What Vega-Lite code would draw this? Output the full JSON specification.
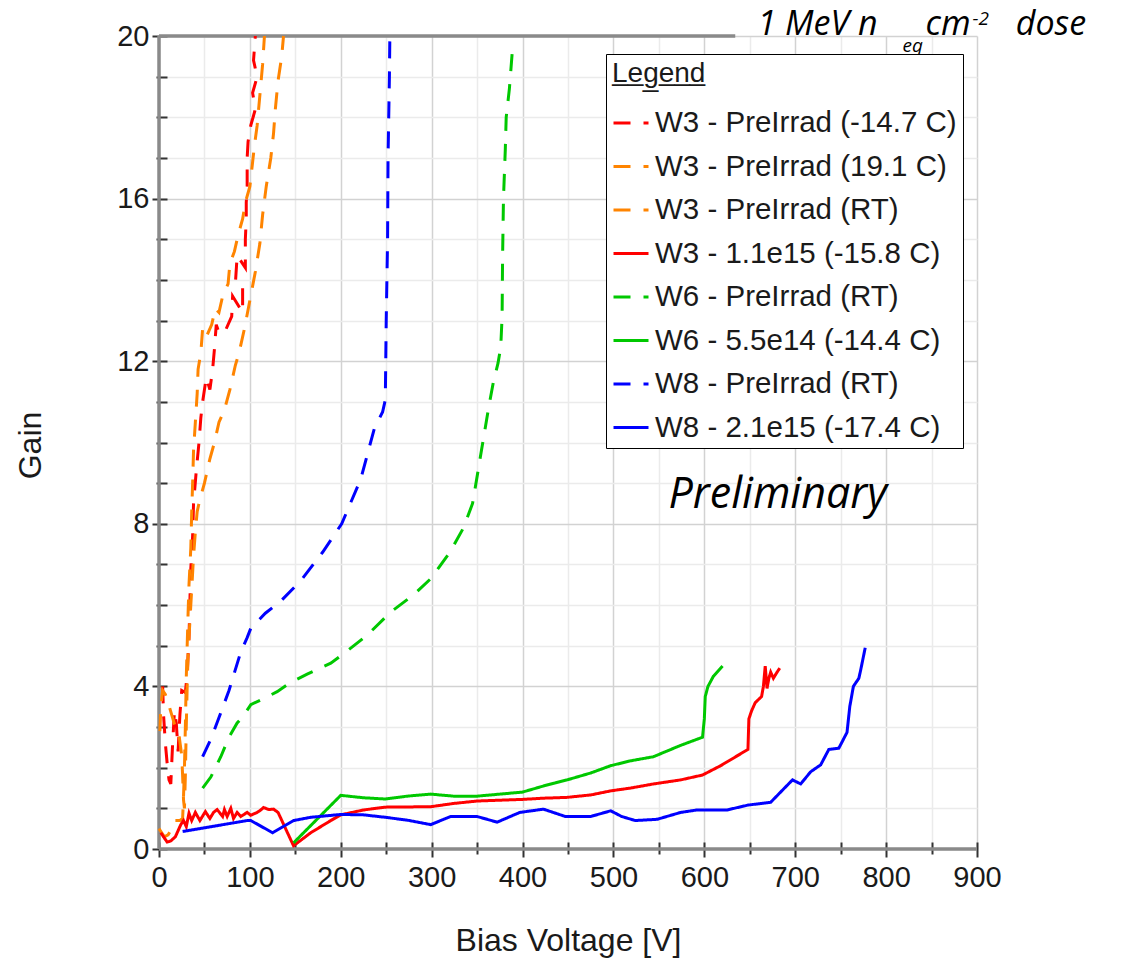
{
  "$schema": "https://vega.github.io/schema/vega-lite/v6.json",
  "width": 818,
  "height": 813,
  "autosize": {"type": "none"},
  "padding": {"left": 159, "top": 36, "right": 150, "bottom": 109},
  "background": "white",
  "config": {"view": {"stroke": null}, "font": "Liberation Sans"},
  "datasets": {
    "frame": [
      {"v": 0, "v2": 0, "g": 0, "g2": 20},
      {"v": 0, "v2": 900, "g": 0, "g2": 0},
      {"v": 0, "v2": 634, "g": 20, "g2": 20}
    ],
    "annot": [
      {"t": "1 MeV n", "v": 724.5, "g": 20.02, "k": "big"},
      {"t": "eq", "v": 818, "g": 19.6, "k": "small"},
      {"t": "cm", "v": 868.1, "g": 20.02, "k": "big"},
      {"t": "-2", "v": 895, "g": 20.27, "k": "small"},
      {"t": "dose", "v": 981.4, "g": 20.02, "k": "big"},
      {"t": "Preliminary", "v": 560.5, "g": 8.39, "k": "prelim"}
    ],
    "curves": [
      {"s": "W3 - PreIrrad (-14.7 C)", "i": 0, "v": 4, "g": 4.0},
      {"s": "W3 - PreIrrad (-14.7 C)", "i": 1, "v": 5, "g": 3.3},
      {"s": "W3 - PreIrrad (-14.7 C)", "i": 2, "v": 7, "g": 2.6},
      {"s": "W3 - PreIrrad (-14.7 C)", "i": 3, "v": 9, "g": 2.1},
      {"s": "W3 - PreIrrad (-14.7 C)", "i": 4, "v": 11, "g": 1.7},
      {"s": "W3 - PreIrrad (-14.7 C)", "i": 5, "v": 13, "g": 1.6},
      {"s": "W3 - PreIrrad (-14.7 C)", "i": 6, "v": 15, "g": 2.6},
      {"s": "W3 - PreIrrad (-14.7 C)", "i": 7, "v": 17, "g": 3.4},
      {"s": "W3 - PreIrrad (-14.7 C)", "i": 8, "v": 19, "g": 3.1},
      {"s": "W3 - PreIrrad (-14.7 C)", "i": 9, "v": 21, "g": 2.4},
      {"s": "W3 - PreIrrad (-14.7 C)", "i": 10, "v": 23, "g": 3.3},
      {"s": "W3 - PreIrrad (-14.7 C)", "i": 11, "v": 25, "g": 3.9},
      {"s": "W3 - PreIrrad (-14.7 C)", "i": 12, "v": 29, "g": 3.85},
      {"s": "W3 - PreIrrad (-14.7 C)", "i": 13, "v": 31, "g": 4.3},
      {"s": "W3 - PreIrrad (-14.7 C)", "i": 14, "v": 33, "g": 5.2},
      {"s": "W3 - PreIrrad (-14.7 C)", "i": 15, "v": 34, "g": 6.1},
      {"s": "W3 - PreIrrad (-14.7 C)", "i": 16, "v": 35, "g": 6.9},
      {"s": "W3 - PreIrrad (-14.7 C)", "i": 17, "v": 37, "g": 7.7},
      {"s": "W3 - PreIrrad (-14.7 C)", "i": 18, "v": 38, "g": 8.5},
      {"s": "W3 - PreIrrad (-14.7 C)", "i": 19, "v": 41, "g": 9.3},
      {"s": "W3 - PreIrrad (-14.7 C)", "i": 20, "v": 44, "g": 10.0},
      {"s": "W3 - PreIrrad (-14.7 C)", "i": 21, "v": 46, "g": 10.6},
      {"s": "W3 - PreIrrad (-14.7 C)", "i": 22, "v": 48, "g": 11.0},
      {"s": "W3 - PreIrrad (-14.7 C)", "i": 23, "v": 52, "g": 11.6},
      {"s": "W3 - PreIrrad (-14.7 C)", "i": 24, "v": 56, "g": 11.3},
      {"s": "W3 - PreIrrad (-14.7 C)", "i": 25, "v": 59, "g": 11.8},
      {"s": "W3 - PreIrrad (-14.7 C)", "i": 26, "v": 61, "g": 12.3},
      {"s": "W3 - PreIrrad (-14.7 C)", "i": 27, "v": 63, "g": 12.9},
      {"s": "W3 - PreIrrad (-14.7 C)", "i": 28, "v": 66, "g": 12.7},
      {"s": "W3 - PreIrrad (-14.7 C)", "i": 29, "v": 72, "g": 12.7},
      {"s": "W3 - PreIrrad (-14.7 C)", "i": 30, "v": 80, "g": 13.1},
      {"s": "W3 - PreIrrad (-14.7 C)", "i": 31, "v": 81, "g": 13.6},
      {"s": "W3 - PreIrrad (-14.7 C)", "i": 32, "v": 92, "g": 13.2},
      {"s": "W3 - PreIrrad (-14.7 C)", "i": 33, "v": 92, "g": 13.8},
      {"s": "W3 - PreIrrad (-14.7 C)", "i": 34, "v": 84, "g": 13.9},
      {"s": "W3 - PreIrrad (-14.7 C)", "i": 35, "v": 86, "g": 14.6},
      {"s": "W3 - PreIrrad (-14.7 C)", "i": 36, "v": 95, "g": 14.3},
      {"s": "W3 - PreIrrad (-14.7 C)", "i": 37, "v": 95, "g": 15.0},
      {"s": "W3 - PreIrrad (-14.7 C)", "i": 38, "v": 96, "g": 15.5},
      {"s": "W3 - PreIrrad (-14.7 C)", "i": 39, "v": 96, "g": 15.9},
      {"s": "W3 - PreIrrad (-14.7 C)", "i": 40, "v": 97, "g": 16.3},
      {"s": "W3 - PreIrrad (-14.7 C)", "i": 41, "v": 97, "g": 17.0},
      {"s": "W3 - PreIrrad (-14.7 C)", "i": 42, "v": 98, "g": 17.4},
      {"s": "W3 - PreIrrad (-14.7 C)", "i": 43, "v": 101, "g": 17.8},
      {"s": "W3 - PreIrrad (-14.7 C)", "i": 44, "v": 106, "g": 18.2},
      {"s": "W3 - PreIrrad (-14.7 C)", "i": 45, "v": 103, "g": 18.6},
      {"s": "W3 - PreIrrad (-14.7 C)", "i": 46, "v": 108, "g": 19.0},
      {"s": "W3 - PreIrrad (-14.7 C)", "i": 47, "v": 104, "g": 19.4},
      {"s": "W3 - PreIrrad (-14.7 C)", "i": 48, "v": 106, "g": 20.0},

      {"s": "W3 - PreIrrad (19.1 C)", "i": 0, "v": 0, "g": 0.5},
      {"s": "W3 - PreIrrad (19.1 C)", "i": 1, "v": 3, "g": 0.4},
      {"s": "W3 - PreIrrad (19.1 C)", "i": 2, "v": 6, "g": 0.3},
      {"s": "W3 - PreIrrad (19.1 C)", "i": 3, "v": 10, "g": 0.35},
      {"s": "W3 - PreIrrad (19.1 C)", "i": 4, "v": 14, "g": 0.5},
      {"s": "W3 - PreIrrad (19.1 C)", "i": 5, "v": 18, "g": 0.7},
      {"s": "W3 - PreIrrad (19.1 C)", "i": 6, "v": 23, "g": 0.7},
      {"s": "W3 - PreIrrad (19.1 C)", "i": 7, "v": 26, "g": 0.75},
      {"s": "W3 - PreIrrad (19.1 C)", "i": 8, "v": 27, "g": 1.3},
      {"s": "W3 - PreIrrad (19.1 C)", "i": 9, "v": 28, "g": 2.0},
      {"s": "W3 - PreIrrad (19.1 C)", "i": 10, "v": 29, "g": 3.0},
      {"s": "W3 - PreIrrad (19.1 C)", "i": 11, "v": 30, "g": 4.2},
      {"s": "W3 - PreIrrad (19.1 C)", "i": 12, "v": 31, "g": 5.0},
      {"s": "W3 - PreIrrad (19.1 C)", "i": 13, "v": 32, "g": 5.8},
      {"s": "W3 - PreIrrad (19.1 C)", "i": 14, "v": 33, "g": 6.5},
      {"s": "W3 - PreIrrad (19.1 C)", "i": 15, "v": 35, "g": 7.4},
      {"s": "W3 - PreIrrad (19.1 C)", "i": 16, "v": 36, "g": 8.3},
      {"s": "W3 - PreIrrad (19.1 C)", "i": 17, "v": 37, "g": 9.0},
      {"s": "W3 - PreIrrad (19.1 C)", "i": 18, "v": 38, "g": 9.8},
      {"s": "W3 - PreIrrad (19.1 C)", "i": 19, "v": 40, "g": 10.5},
      {"s": "W3 - PreIrrad (19.1 C)", "i": 20, "v": 42, "g": 11.2},
      {"s": "W3 - PreIrrad (19.1 C)", "i": 21, "v": 43, "g": 11.8},
      {"s": "W3 - PreIrrad (19.1 C)", "i": 22, "v": 46, "g": 12.2},
      {"s": "W3 - PreIrrad (19.1 C)", "i": 23, "v": 48, "g": 12.8},
      {"s": "W3 - PreIrrad (19.1 C)", "i": 24, "v": 52, "g": 12.6},
      {"s": "W3 - PreIrrad (19.1 C)", "i": 25, "v": 58, "g": 12.9},
      {"s": "W3 - PreIrrad (19.1 C)", "i": 26, "v": 62, "g": 13.3},
      {"s": "W3 - PreIrrad (19.1 C)", "i": 27, "v": 66, "g": 13.2},
      {"s": "W3 - PreIrrad (19.1 C)", "i": 28, "v": 70, "g": 13.6},
      {"s": "W3 - PreIrrad (19.1 C)", "i": 29, "v": 76, "g": 13.9},
      {"s": "W3 - PreIrrad (19.1 C)", "i": 30, "v": 78, "g": 14.4},
      {"s": "W3 - PreIrrad (19.1 C)", "i": 31, "v": 83, "g": 14.7},
      {"s": "W3 - PreIrrad (19.1 C)", "i": 32, "v": 87, "g": 15.1},
      {"s": "W3 - PreIrrad (19.1 C)", "i": 33, "v": 92, "g": 15.5},
      {"s": "W3 - PreIrrad (19.1 C)", "i": 34, "v": 95, "g": 15.9},
      {"s": "W3 - PreIrrad (19.1 C)", "i": 35, "v": 100, "g": 16.3},
      {"s": "W3 - PreIrrad (19.1 C)", "i": 36, "v": 103, "g": 16.9},
      {"s": "W3 - PreIrrad (19.1 C)", "i": 37, "v": 105, "g": 17.3},
      {"s": "W3 - PreIrrad (19.1 C)", "i": 38, "v": 108, "g": 17.8},
      {"s": "W3 - PreIrrad (19.1 C)", "i": 39, "v": 110, "g": 18.3},
      {"s": "W3 - PreIrrad (19.1 C)", "i": 40, "v": 112, "g": 18.8},
      {"s": "W3 - PreIrrad (19.1 C)", "i": 41, "v": 114, "g": 19.3},
      {"s": "W3 - PreIrrad (19.1 C)", "i": 42, "v": 116, "g": 20.0},

      {"s": "W3 - PreIrrad (RT)", "i": 0, "v": 1, "g": 2.9},
      {"s": "W3 - PreIrrad (RT)", "i": 1, "v": 2, "g": 3.5},
      {"s": "W3 - PreIrrad (RT)", "i": 2, "v": 4, "g": 3.9},
      {"s": "W3 - PreIrrad (RT)", "i": 3, "v": 7, "g": 3.8},
      {"s": "W3 - PreIrrad (RT)", "i": 4, "v": 10, "g": 3.6},
      {"s": "W3 - PreIrrad (RT)", "i": 5, "v": 14, "g": 3.3},
      {"s": "W3 - PreIrrad (RT)", "i": 6, "v": 18, "g": 3.0},
      {"s": "W3 - PreIrrad (RT)", "i": 7, "v": 22, "g": 2.8},
      {"s": "W3 - PreIrrad (RT)", "i": 8, "v": 25, "g": 2.3},
      {"s": "W3 - PreIrrad (RT)", "i": 9, "v": 26, "g": 1.8},
      {"s": "W3 - PreIrrad (RT)", "i": 10, "v": 27, "g": 1.2},
      {"s": "W3 - PreIrrad (RT)", "i": 11, "v": 28, "g": 1.0},
      {"s": "W3 - PreIrrad (RT)", "i": 12, "v": 29, "g": 1.8},
      {"s": "W3 - PreIrrad (RT)", "i": 13, "v": 30, "g": 3.0},
      {"s": "W3 - PreIrrad (RT)", "i": 14, "v": 31, "g": 4.0},
      {"s": "W3 - PreIrrad (RT)", "i": 15, "v": 32, "g": 4.8},
      {"s": "W3 - PreIrrad (RT)", "i": 16, "v": 34, "g": 5.6},
      {"s": "W3 - PreIrrad (RT)", "i": 17, "v": 36, "g": 6.4},
      {"s": "W3 - PreIrrad (RT)", "i": 18, "v": 38, "g": 7.2},
      {"s": "W3 - PreIrrad (RT)", "i": 19, "v": 40, "g": 7.8},
      {"s": "W3 - PreIrrad (RT)", "i": 20, "v": 42, "g": 8.3},
      {"s": "W3 - PreIrrad (RT)", "i": 21, "v": 45, "g": 8.6},
      {"s": "W3 - PreIrrad (RT)", "i": 22, "v": 50, "g": 9.0},
      {"s": "W3 - PreIrrad (RT)", "i": 23, "v": 56, "g": 9.6},
      {"s": "W3 - PreIrrad (RT)", "i": 24, "v": 61, "g": 10.0},
      {"s": "W3 - PreIrrad (RT)", "i": 25, "v": 66, "g": 10.5},
      {"s": "W3 - PreIrrad (RT)", "i": 26, "v": 72, "g": 10.8},
      {"s": "W3 - PreIrrad (RT)", "i": 27, "v": 78, "g": 11.3},
      {"s": "W3 - PreIrrad (RT)", "i": 28, "v": 84, "g": 11.9},
      {"s": "W3 - PreIrrad (RT)", "i": 29, "v": 88, "g": 12.2},
      {"s": "W3 - PreIrrad (RT)", "i": 30, "v": 94, "g": 12.8},
      {"s": "W3 - PreIrrad (RT)", "i": 31, "v": 100, "g": 13.5},
      {"s": "W3 - PreIrrad (RT)", "i": 32, "v": 106, "g": 14.2},
      {"s": "W3 - PreIrrad (RT)", "i": 33, "v": 111, "g": 14.9},
      {"s": "W3 - PreIrrad (RT)", "i": 34, "v": 114, "g": 15.6},
      {"s": "W3 - PreIrrad (RT)", "i": 35, "v": 118, "g": 16.3},
      {"s": "W3 - PreIrrad (RT)", "i": 36, "v": 123, "g": 17.0},
      {"s": "W3 - PreIrrad (RT)", "i": 37, "v": 126, "g": 17.6},
      {"s": "W3 - PreIrrad (RT)", "i": 38, "v": 128, "g": 18.2},
      {"s": "W3 - PreIrrad (RT)", "i": 39, "v": 131, "g": 18.9},
      {"s": "W3 - PreIrrad (RT)", "i": 40, "v": 135, "g": 19.5},
      {"s": "W3 - PreIrrad (RT)", "i": 41, "v": 137, "g": 20.0},

      {"s": "W3 - 1.1e15 (-15.8 C)", "i": 0, "v": 2, "g": 0.4},
      {"s": "W3 - 1.1e15 (-15.8 C)", "i": 1, "v": 5, "g": 0.3},
      {"s": "W3 - 1.1e15 (-15.8 C)", "i": 2, "v": 9, "g": 0.17},
      {"s": "W3 - 1.1e15 (-15.8 C)", "i": 3, "v": 13, "g": 0.2},
      {"s": "W3 - 1.1e15 (-15.8 C)", "i": 4, "v": 18, "g": 0.3},
      {"s": "W3 - 1.1e15 (-15.8 C)", "i": 5, "v": 22, "g": 0.5},
      {"s": "W3 - 1.1e15 (-15.8 C)", "i": 6, "v": 24, "g": 0.6},
      {"s": "W3 - 1.1e15 (-15.8 C)", "i": 7, "v": 27, "g": 0.7},
      {"s": "W3 - 1.1e15 (-15.8 C)", "i": 8, "v": 30, "g": 0.55},
      {"s": "W3 - 1.1e15 (-15.8 C)", "i": 9, "v": 33, "g": 0.88},
      {"s": "W3 - 1.1e15 (-15.8 C)", "i": 10, "v": 36, "g": 0.7},
      {"s": "W3 - 1.1e15 (-15.8 C)", "i": 11, "v": 40, "g": 0.9},
      {"s": "W3 - 1.1e15 (-15.8 C)", "i": 12, "v": 45, "g": 0.7},
      {"s": "W3 - 1.1e15 (-15.8 C)", "i": 13, "v": 51, "g": 0.92},
      {"s": "W3 - 1.1e15 (-15.8 C)", "i": 14, "v": 56, "g": 0.75},
      {"s": "W3 - 1.1e15 (-15.8 C)", "i": 15, "v": 60, "g": 0.9},
      {"s": "W3 - 1.1e15 (-15.8 C)", "i": 16, "v": 64, "g": 0.97},
      {"s": "W3 - 1.1e15 (-15.8 C)", "i": 17, "v": 70, "g": 0.8},
      {"s": "W3 - 1.1e15 (-15.8 C)", "i": 18, "v": 72, "g": 0.97},
      {"s": "W3 - 1.1e15 (-15.8 C)", "i": 19, "v": 75, "g": 0.8},
      {"s": "W3 - 1.1e15 (-15.8 C)", "i": 20, "v": 79, "g": 1.0},
      {"s": "W3 - 1.1e15 (-15.8 C)", "i": 21, "v": 82, "g": 0.75},
      {"s": "W3 - 1.1e15 (-15.8 C)", "i": 22, "v": 86, "g": 0.9},
      {"s": "W3 - 1.1e15 (-15.8 C)", "i": 23, "v": 90, "g": 0.8},
      {"s": "W3 - 1.1e15 (-15.8 C)", "i": 24, "v": 97, "g": 0.9},
      {"s": "W3 - 1.1e15 (-15.8 C)", "i": 25, "v": 101, "g": 0.83},
      {"s": "W3 - 1.1e15 (-15.8 C)", "i": 26, "v": 108, "g": 0.9},
      {"s": "W3 - 1.1e15 (-15.8 C)", "i": 27, "v": 112, "g": 0.96},
      {"s": "W3 - 1.1e15 (-15.8 C)", "i": 28, "v": 115, "g": 1.02},
      {"s": "W3 - 1.1e15 (-15.8 C)", "i": 29, "v": 121, "g": 0.97},
      {"s": "W3 - 1.1e15 (-15.8 C)", "i": 30, "v": 126, "g": 0.98},
      {"s": "W3 - 1.1e15 (-15.8 C)", "i": 31, "v": 131, "g": 0.9},
      {"s": "W3 - 1.1e15 (-15.8 C)", "i": 32, "v": 148, "g": 0.08},
      {"s": "W3 - 1.1e15 (-15.8 C)", "i": 33, "v": 167, "g": 0.4},
      {"s": "W3 - 1.1e15 (-15.8 C)", "i": 34, "v": 189, "g": 0.7},
      {"s": "W3 - 1.1e15 (-15.8 C)", "i": 35, "v": 200, "g": 0.84},
      {"s": "W3 - 1.1e15 (-15.8 C)", "i": 36, "v": 225, "g": 0.96},
      {"s": "W3 - 1.1e15 (-15.8 C)", "i": 37, "v": 249, "g": 1.03},
      {"s": "W3 - 1.1e15 (-15.8 C)", "i": 38, "v": 299, "g": 1.04},
      {"s": "W3 - 1.1e15 (-15.8 C)", "i": 39, "v": 324, "g": 1.12},
      {"s": "W3 - 1.1e15 (-15.8 C)", "i": 40, "v": 350, "g": 1.18},
      {"s": "W3 - 1.1e15 (-15.8 C)", "i": 41, "v": 400, "g": 1.22},
      {"s": "W3 - 1.1e15 (-15.8 C)", "i": 42, "v": 423, "g": 1.25},
      {"s": "W3 - 1.1e15 (-15.8 C)", "i": 43, "v": 449, "g": 1.27},
      {"s": "W3 - 1.1e15 (-15.8 C)", "i": 44, "v": 475, "g": 1.33},
      {"s": "W3 - 1.1e15 (-15.8 C)", "i": 45, "v": 497, "g": 1.43},
      {"s": "W3 - 1.1e15 (-15.8 C)", "i": 46, "v": 519, "g": 1.5},
      {"s": "W3 - 1.1e15 (-15.8 C)", "i": 47, "v": 544, "g": 1.6},
      {"s": "W3 - 1.1e15 (-15.8 C)", "i": 48, "v": 574, "g": 1.7},
      {"s": "W3 - 1.1e15 (-15.8 C)", "i": 49, "v": 598, "g": 1.82},
      {"s": "W3 - 1.1e15 (-15.8 C)", "i": 50, "v": 618, "g": 2.05},
      {"s": "W3 - 1.1e15 (-15.8 C)", "i": 51, "v": 648, "g": 2.45},
      {"s": "W3 - 1.1e15 (-15.8 C)", "i": 52, "v": 649, "g": 3.2},
      {"s": "W3 - 1.1e15 (-15.8 C)", "i": 53, "v": 652, "g": 3.4},
      {"s": "W3 - 1.1e15 (-15.8 C)", "i": 54, "v": 656, "g": 3.6},
      {"s": "W3 - 1.1e15 (-15.8 C)", "i": 55, "v": 663, "g": 3.75},
      {"s": "W3 - 1.1e15 (-15.8 C)", "i": 56, "v": 665, "g": 4.0},
      {"s": "W3 - 1.1e15 (-15.8 C)", "i": 57, "v": 667, "g": 4.5},
      {"s": "W3 - 1.1e15 (-15.8 C)", "i": 58, "v": 669, "g": 3.95},
      {"s": "W3 - 1.1e15 (-15.8 C)", "i": 59, "v": 671, "g": 4.2},
      {"s": "W3 - 1.1e15 (-15.8 C)", "i": 60, "v": 673, "g": 4.35},
      {"s": "W3 - 1.1e15 (-15.8 C)", "i": 61, "v": 676, "g": 4.2},
      {"s": "W3 - 1.1e15 (-15.8 C)", "i": 62, "v": 680, "g": 4.35},
      {"s": "W3 - 1.1e15 (-15.8 C)", "i": 63, "v": 683, "g": 4.45},

      {"s": "W6 - PreIrrad (RT)", "i": 0, "v": 48, "g": 1.5},
      {"s": "W6 - PreIrrad (RT)", "i": 1, "v": 57, "g": 1.77},
      {"s": "W6 - PreIrrad (RT)", "i": 2, "v": 68, "g": 2.27},
      {"s": "W6 - PreIrrad (RT)", "i": 3, "v": 77, "g": 2.75},
      {"s": "W6 - PreIrrad (RT)", "i": 4, "v": 86, "g": 3.1},
      {"s": "W6 - PreIrrad (RT)", "i": 5, "v": 92, "g": 3.25},
      {"s": "W6 - PreIrrad (RT)", "i": 6, "v": 101, "g": 3.55},
      {"s": "W6 - PreIrrad (RT)", "i": 7, "v": 115, "g": 3.7},
      {"s": "W6 - PreIrrad (RT)", "i": 8, "v": 130, "g": 3.87},
      {"s": "W6 - PreIrrad (RT)", "i": 9, "v": 145, "g": 4.1},
      {"s": "W6 - PreIrrad (RT)", "i": 10, "v": 163, "g": 4.3},
      {"s": "W6 - PreIrrad (RT)", "i": 11, "v": 189, "g": 4.57},
      {"s": "W6 - PreIrrad (RT)", "i": 12, "v": 203, "g": 4.8},
      {"s": "W6 - PreIrrad (RT)", "i": 13, "v": 229, "g": 5.26},
      {"s": "W6 - PreIrrad (RT)", "i": 14, "v": 255, "g": 5.83},
      {"s": "W6 - PreIrrad (RT)", "i": 15, "v": 280, "g": 6.25},
      {"s": "W6 - PreIrrad (RT)", "i": 16, "v": 299, "g": 6.65},
      {"s": "W6 - PreIrrad (RT)", "i": 17, "v": 320, "g": 7.3},
      {"s": "W6 - PreIrrad (RT)", "i": 18, "v": 335, "g": 7.9},
      {"s": "W6 - PreIrrad (RT)", "i": 19, "v": 345, "g": 8.5},
      {"s": "W6 - PreIrrad (RT)", "i": 20, "v": 351, "g": 9.3},
      {"s": "W6 - PreIrrad (RT)", "i": 21, "v": 357, "g": 10.1},
      {"s": "W6 - PreIrrad (RT)", "i": 22, "v": 363, "g": 10.9},
      {"s": "W6 - PreIrrad (RT)", "i": 23, "v": 368, "g": 11.5},
      {"s": "W6 - PreIrrad (RT)", "i": 24, "v": 373, "g": 11.95},
      {"s": "W6 - PreIrrad (RT)", "i": 25, "v": 376, "g": 12.35},
      {"s": "W6 - PreIrrad (RT)", "i": 26, "v": 377.5, "g": 13.1},
      {"s": "W6 - PreIrrad (RT)", "i": 27, "v": 378, "g": 14.5},
      {"s": "W6 - PreIrrad (RT)", "i": 28, "v": 379, "g": 16.0},
      {"s": "W6 - PreIrrad (RT)", "i": 29, "v": 381, "g": 17.2},
      {"s": "W6 - PreIrrad (RT)", "i": 30, "v": 382, "g": 18.0},
      {"s": "W6 - PreIrrad (RT)", "i": 31, "v": 385.5, "g": 18.7},
      {"s": "W6 - PreIrrad (RT)", "i": 32, "v": 389, "g": 19.7},

      {"s": "W6 - 5.5e14 (-14.4 C)", "i": 0, "v": 148, "g": 0.15},
      {"s": "W6 - 5.5e14 (-14.4 C)", "i": 1, "v": 200, "g": 1.32},
      {"s": "W6 - 5.5e14 (-14.4 C)", "i": 2, "v": 225, "g": 1.26},
      {"s": "W6 - 5.5e14 (-14.4 C)", "i": 3, "v": 249, "g": 1.23},
      {"s": "W6 - 5.5e14 (-14.4 C)", "i": 4, "v": 273, "g": 1.3},
      {"s": "W6 - 5.5e14 (-14.4 C)", "i": 5, "v": 299, "g": 1.35},
      {"s": "W6 - 5.5e14 (-14.4 C)", "i": 6, "v": 324, "g": 1.3},
      {"s": "W6 - 5.5e14 (-14.4 C)", "i": 7, "v": 350, "g": 1.3},
      {"s": "W6 - 5.5e14 (-14.4 C)", "i": 8, "v": 375, "g": 1.35},
      {"s": "W6 - 5.5e14 (-14.4 C)", "i": 9, "v": 400, "g": 1.4},
      {"s": "W6 - 5.5e14 (-14.4 C)", "i": 10, "v": 423, "g": 1.55},
      {"s": "W6 - 5.5e14 (-14.4 C)", "i": 11, "v": 449, "g": 1.7},
      {"s": "W6 - 5.5e14 (-14.4 C)", "i": 12, "v": 475, "g": 1.87},
      {"s": "W6 - 5.5e14 (-14.4 C)", "i": 13, "v": 497, "g": 2.05},
      {"s": "W6 - 5.5e14 (-14.4 C)", "i": 14, "v": 519, "g": 2.17},
      {"s": "W6 - 5.5e14 (-14.4 C)", "i": 15, "v": 544, "g": 2.27},
      {"s": "W6 - 5.5e14 (-14.4 C)", "i": 16, "v": 574, "g": 2.55},
      {"s": "W6 - 5.5e14 (-14.4 C)", "i": 17, "v": 598, "g": 2.75},
      {"s": "W6 - 5.5e14 (-14.4 C)", "i": 18, "v": 600, "g": 3.2},
      {"s": "W6 - 5.5e14 (-14.4 C)", "i": 19, "v": 601, "g": 3.75},
      {"s": "W6 - 5.5e14 (-14.4 C)", "i": 20, "v": 604, "g": 4.0},
      {"s": "W6 - 5.5e14 (-14.4 C)", "i": 21, "v": 610, "g": 4.25},
      {"s": "W6 - 5.5e14 (-14.4 C)", "i": 22, "v": 620, "g": 4.5},

      {"s": "W8 - PreIrrad (RT)", "i": 0, "v": 48, "g": 2.27},
      {"s": "W8 - PreIrrad (RT)", "i": 1, "v": 57, "g": 2.7},
      {"s": "W8 - PreIrrad (RT)", "i": 2, "v": 68, "g": 3.35},
      {"s": "W8 - PreIrrad (RT)", "i": 3, "v": 77, "g": 3.9},
      {"s": "W8 - PreIrrad (RT)", "i": 4, "v": 90, "g": 4.85},
      {"s": "W8 - PreIrrad (RT)", "i": 5, "v": 97, "g": 5.2},
      {"s": "W8 - PreIrrad (RT)", "i": 6, "v": 101, "g": 5.43},
      {"s": "W8 - PreIrrad (RT)", "i": 7, "v": 117, "g": 5.8},
      {"s": "W8 - PreIrrad (RT)", "i": 8, "v": 134, "g": 6.1},
      {"s": "W8 - PreIrrad (RT)", "i": 9, "v": 156, "g": 6.6},
      {"s": "W8 - PreIrrad (RT)", "i": 10, "v": 180, "g": 7.3},
      {"s": "W8 - PreIrrad (RT)", "i": 11, "v": 201, "g": 8.0},
      {"s": "W8 - PreIrrad (RT)", "i": 12, "v": 222, "g": 9.1},
      {"s": "W8 - PreIrrad (RT)", "i": 13, "v": 237, "g": 10.35},
      {"s": "W8 - PreIrrad (RT)", "i": 14, "v": 246, "g": 10.75},
      {"s": "W8 - PreIrrad (RT)", "i": 15, "v": 249, "g": 11.05},
      {"s": "W8 - PreIrrad (RT)", "i": 16, "v": 250, "g": 13.0},
      {"s": "W8 - PreIrrad (RT)", "i": 17, "v": 251.5, "g": 15.0},
      {"s": "W8 - PreIrrad (RT)", "i": 18, "v": 252, "g": 17.0},
      {"s": "W8 - PreIrrad (RT)", "i": 19, "v": 253.5, "g": 19.0},
      {"s": "W8 - PreIrrad (RT)", "i": 20, "v": 254, "g": 20.0},

      {"s": "W8 - 2.1e15 (-17.4 C)", "i": 0, "v": 26, "g": 0.43},
      {"s": "W8 - 2.1e15 (-17.4 C)", "i": 1, "v": 97, "g": 0.7},
      {"s": "W8 - 2.1e15 (-17.4 C)", "i": 2, "v": 101, "g": 0.7},
      {"s": "W8 - 2.1e15 (-17.4 C)", "i": 3, "v": 125, "g": 0.4},
      {"s": "W8 - 2.1e15 (-17.4 C)", "i": 4, "v": 148, "g": 0.7},
      {"s": "W8 - 2.1e15 (-17.4 C)", "i": 5, "v": 167, "g": 0.78},
      {"s": "W8 - 2.1e15 (-17.4 C)", "i": 6, "v": 200, "g": 0.85},
      {"s": "W8 - 2.1e15 (-17.4 C)", "i": 7, "v": 225, "g": 0.84},
      {"s": "W8 - 2.1e15 (-17.4 C)", "i": 8, "v": 249, "g": 0.78},
      {"s": "W8 - 2.1e15 (-17.4 C)", "i": 9, "v": 273, "g": 0.71},
      {"s": "W8 - 2.1e15 (-17.4 C)", "i": 10, "v": 299, "g": 0.6},
      {"s": "W8 - 2.1e15 (-17.4 C)", "i": 11, "v": 321, "g": 0.8},
      {"s": "W8 - 2.1e15 (-17.4 C)", "i": 12, "v": 350, "g": 0.8},
      {"s": "W8 - 2.1e15 (-17.4 C)", "i": 13, "v": 372, "g": 0.66},
      {"s": "W8 - 2.1e15 (-17.4 C)", "i": 14, "v": 397, "g": 0.9},
      {"s": "W8 - 2.1e15 (-17.4 C)", "i": 15, "v": 423, "g": 0.98},
      {"s": "W8 - 2.1e15 (-17.4 C)", "i": 16, "v": 447, "g": 0.8},
      {"s": "W8 - 2.1e15 (-17.4 C)", "i": 17, "v": 475, "g": 0.8},
      {"s": "W8 - 2.1e15 (-17.4 C)", "i": 18, "v": 497, "g": 0.94},
      {"s": "W8 - 2.1e15 (-17.4 C)", "i": 19, "v": 509, "g": 0.8},
      {"s": "W8 - 2.1e15 (-17.4 C)", "i": 20, "v": 524, "g": 0.7},
      {"s": "W8 - 2.1e15 (-17.4 C)", "i": 21, "v": 548, "g": 0.73},
      {"s": "W8 - 2.1e15 (-17.4 C)", "i": 22, "v": 574, "g": 0.9},
      {"s": "W8 - 2.1e15 (-17.4 C)", "i": 23, "v": 592, "g": 0.96},
      {"s": "W8 - 2.1e15 (-17.4 C)", "i": 24, "v": 625, "g": 0.96},
      {"s": "W8 - 2.1e15 (-17.4 C)", "i": 25, "v": 648, "g": 1.08},
      {"s": "W8 - 2.1e15 (-17.4 C)", "i": 26, "v": 673, "g": 1.15},
      {"s": "W8 - 2.1e15 (-17.4 C)", "i": 27, "v": 697, "g": 1.7},
      {"s": "W8 - 2.1e15 (-17.4 C)", "i": 28, "v": 706, "g": 1.6},
      {"s": "W8 - 2.1e15 (-17.4 C)", "i": 29, "v": 717, "g": 1.9},
      {"s": "W8 - 2.1e15 (-17.4 C)", "i": 30, "v": 728, "g": 2.07},
      {"s": "W8 - 2.1e15 (-17.4 C)", "i": 31, "v": 737, "g": 2.45},
      {"s": "W8 - 2.1e15 (-17.4 C)", "i": 32, "v": 748, "g": 2.48},
      {"s": "W8 - 2.1e15 (-17.4 C)", "i": 33, "v": 757, "g": 2.87},
      {"s": "W8 - 2.1e15 (-17.4 C)", "i": 34, "v": 760, "g": 3.5},
      {"s": "W8 - 2.1e15 (-17.4 C)", "i": 35, "v": 764, "g": 4.0},
      {"s": "W8 - 2.1e15 (-17.4 C)", "i": 36, "v": 770, "g": 4.2},
      {"s": "W8 - 2.1e15 (-17.4 C)", "i": 37, "v": 772, "g": 4.4},
      {"s": "W8 - 2.1e15 (-17.4 C)", "i": 38, "v": 777, "g": 4.95}
    ]
  },
  "layer": [
    {
      "data": {"name": "frame"},
      "mark": {"type": "rule", "color": "#8a8a8a", "strokeWidth": 3.5},
      "encoding": {
        "x": {
          "field": "v", "type": "quantitative",
          "scale": {"domain": [0, 900], "nice": false, "zero": false},
          "axis": {
            "title": "Bias Voltage [V]",
            "values": [0, 25, 50, 75, 100, 125, 150, 175, 200, 225, 250, 275, 300, 325, 350, 375, 400, 425, 450, 475, 500, 525, 550, 575, 600, 625, 650, 675, 700, 725, 750, 775, 800, 825, 850, 875, 900],
            "labelExpr": "datum.value % 100 === 0 ? datum.label : ''",
            "labelFont": "Liberation Sans", "labelFontSize": 29, "labelColor": "#1a1a1a",
            "labelPadding": 6, "labelFlush": false, "labelOverlap": false, "labelBound": false,
            "tickSize": {"condition": {"test": "datum.value % 100 === 0", "value": 15}, "value": 12},
            "tickColor": "#333333", "tickWidth": 2,
            "offset": -7,
            "domain": false,
            "grid": true,
            "gridColor": {"condition": {"test": "datum.value % 100 === 0", "value": "#d2d2d2"}, "value": "#ebebeb"},
            "gridWidth": 1.5,
            "titleFont": "Liberation Sans", "titleFontSize": 32, "titleFontWeight": "normal", "titleColor": "#1a1a1a",
            "titleX": 409, "titleY": 108, "titleAlign": "center", "titleBaseline": "alphabetic"
          }
        },
        "x2": {"field": "v2"},
        "y": {
          "field": "g", "type": "quantitative",
          "scale": {"domain": [0, 20], "nice": false, "zero": false},
          "axis": {
            "title": "Gain",
            "values": [0, 1, 2, 3, 4, 5, 6, 7, 8, 9, 10, 11, 12, 13, 14, 15, 16, 17, 18, 19, 20],
            "labelExpr": "datum.value % 4 === 0 ? datum.label : ''",
            "labelFont": "Liberation Sans", "labelFontSize": 29, "labelColor": "#1a1a1a",
            "labelPadding": 3, "labelFlush": false, "labelOverlap": false, "labelBound": false,
            "tickSize": {"condition": {"test": "datum.value % 4 === 0", "value": 15}, "value": 11},
            "tickColor": "#333333", "tickWidth": 2,
            "offset": -8,
            "domain": false,
            "grid": true,
            "gridColor": {"condition": {"test": "datum.value % 4 === 0", "value": "#d2d2d2"}, "value": "#ebebeb"},
            "gridWidth": 1.5,
            "titleFont": "Liberation Sans", "titleFontSize": 32, "titleFontWeight": "normal", "titleColor": "#1a1a1a",
            "titleX": -127, "titleY": 409, "titleAlign": "center", "titleBaseline": "alphabetic", "titleAngle": 270
          }
        },
        "y2": {"field": "g2"}
      }
    },
    {
      "data": {"name": "curves"},
      "mark": {"type": "line", "strokeWidth": 3, "clip": false},
      "encoding": {
        "x": {"field": "v", "type": "quantitative"},
        "y": {"field": "g", "type": "quantitative"},
        "color": {
          "field": "s", "type": "nominal",
          "scale": {
            "domain": ["W3 - PreIrrad (-14.7 C)", "W3 - PreIrrad (19.1 C)", "W3 - PreIrrad (RT)", "W3 - 1.1e15 (-15.8 C)", "W6 - PreIrrad (RT)", "W6 - 5.5e14 (-14.4 C)", "W8 - PreIrrad (RT)", "W8 - 2.1e15 (-17.4 C)"],
            "range": ["#ff0000", "#ff8400", "#ff8400", "#ff0000", "#00c800", "#00c800", "#0000ff", "#0000ff"]
          },
          "legend": {
            "title": "L̲e̲g̲e̲n̲d̲",
            "orient": "none", "legendX": 447, "legendY": 18, "direction": "vertical",
            "titleFont": "Liberation Sans", "titleFontSize": 28, "titleFontWeight": "normal", "titleColor": "#1a1a1a", "titlePadding": 16,
            "labelFont": "Liberation Sans", "labelFontSize": 29.5, "labelColor": "#1a1a1a", "labelOffset": 5, "labelLimit": 400,
            "symbolType": "stroke", "symbolSize": 1225, "symbolStrokeWidth": 3,
            "rowPadding": 9.5, "padding": 6,
            "strokeColor": "#000000", "fillColor": "#ffffff",
            "encode": {"symbols": {"update": {"strokeDash": {"signal": "indexof(datum.value, 'PreIrrad') >= 0 ? [8, 5] : [1, 0]"}}}}
          }
        },
        "strokeDash": {
          "field": "s", "type": "nominal",
          "scale": {
            "domain": ["W3 - PreIrrad (-14.7 C)", "W3 - PreIrrad (19.1 C)", "W3 - PreIrrad (RT)", "W3 - 1.1e15 (-15.8 C)", "W6 - PreIrrad (RT)", "W6 - 5.5e14 (-14.4 C)", "W8 - PreIrrad (RT)", "W8 - 2.1e15 (-17.4 C)"],
            "range": [[17, 13], [17, 13], [17, 13], [1, 0], [17, 13], [1, 0], [17, 13], [1, 0]]
          },
          "legend": {
            "title": "L̲e̲g̲e̲n̲d̲",
            "orient": "none", "legendX": 447, "legendY": 18, "direction": "vertical",
            "titleFont": "Liberation Sans", "titleFontSize": 28, "titleFontWeight": "normal", "titleColor": "#1a1a1a", "titlePadding": 16,
            "labelFont": "Liberation Sans", "labelFontSize": 29.5, "labelColor": "#1a1a1a", "labelOffset": 5, "labelLimit": 400,
            "symbolType": "stroke", "symbolSize": 1225, "symbolStrokeWidth": 3,
            "rowPadding": 9.5, "padding": 6,
            "strokeColor": "#000000", "fillColor": "#ffffff",
            "encode": {"symbols": {"update": {"strokeDash": {"signal": "indexof(datum.value, 'PreIrrad') >= 0 ? [8, 5] : [1, 0]"}}}}
          }
        },
        "order": {"field": "i", "type": "quantitative"}
      }
    },
    {
      "data": {"name": "annot"},
      "transform": [{"filter": "datum.k === 'big'"}],
      "mark": {"type": "text", "font": "Open Sans", "fontStyle": "italic", "fontSize": 34, "align": "center", "baseline": "alphabetic", "color": "#000000"},
      "encoding": {
        "x": {"field": "v", "type": "quantitative"},
        "y": {"field": "g", "type": "quantitative"},
        "text": {"field": "t"}
      }
    },
    {
      "data": {"name": "annot"},
      "transform": [{"filter": "datum.k === 'small'"}],
      "mark": {"type": "text", "font": "Open Sans", "fontStyle": "italic", "fontSize": 19, "align": "left", "baseline": "alphabetic", "color": "#000000"},
      "encoding": {
        "x": {"field": "v", "type": "quantitative"},
        "y": {"field": "g", "type": "quantitative"},
        "text": {"field": "t"}
      }
    },
    {
      "data": {"name": "annot"},
      "transform": [{"filter": "datum.k === 'prelim'"}],
      "mark": {"type": "text", "font": "Open Sans", "fontStyle": "italic", "fontSize": 43, "align": "left", "baseline": "alphabetic", "color": "#000000"},
      "encoding": {
        "x": {"field": "v", "type": "quantitative"},
        "y": {"field": "g", "type": "quantitative"},
        "text": {"field": "t"}
      }
    }
  ]
}
